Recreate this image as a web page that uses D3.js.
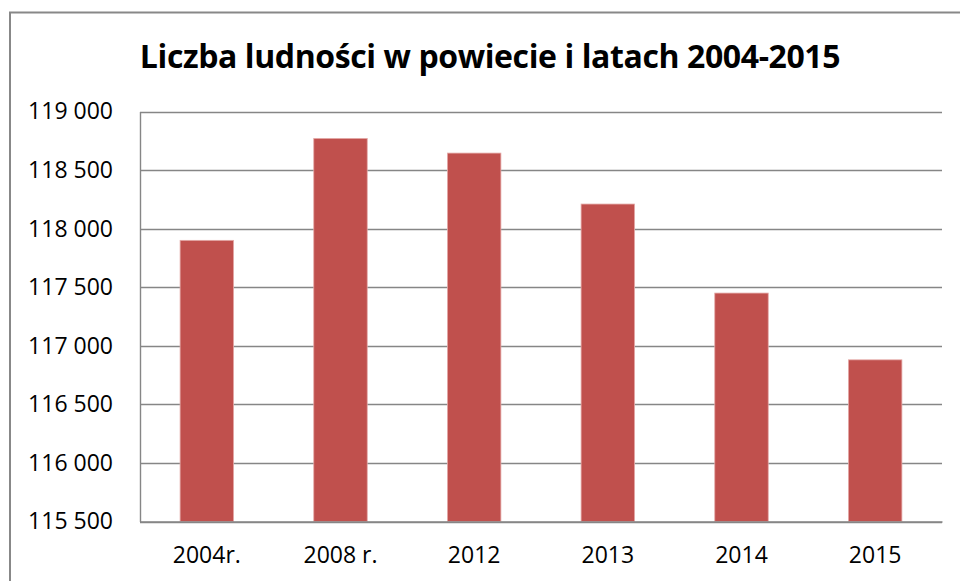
<!DOCTYPE html>
<html>
<head>
<meta charset="utf-8">
<script src="https://cdn.jsdelivr.net/npm/d3@7"></script>
<style>
	body { margin: 0; background: #ffffff; }
	svg { display: block; font-family: "Open Sans", Lato, sans-serif; }
</style>
</head>
<body>
<svg id="chart" width="960" height="581"></svg>
<script>
// data
var categories = ["2004r.", "2008 r.", "2012", "2013", "2014", "2015"];
var population = [117900, 118770, 118645, 118210, 117450, 116880];
var yTicks = [115500, 116000, 116500, 117000, 117500, 118000, 118500, 119000];
var title = "Liczba ludności w powiecie i latach 2004-2015";

var svg = d3.select("#chart");

var plot = { left: 140, right: 942, top: 111.5, bottom: 521.5 };
var font = "'Open Sans', Lato, sans-serif";

var pl = d3.formatLocale({ decimal: ",", thousands: " ", grouping: [3], currency: ["", ""] });
var fmt = pl.format(",d");

// outer frame (runs off the right and bottom edges)
svg.append("rect")
	.attr("x", 10).attr("y", 12.5)
	.attr("width", 1000).attr("height", 700)
	.attr("fill", "none")
	.attr("stroke", "#888888")
	.attr("stroke-width", 2);

var x = d3.scaleBand()
	.domain(categories)
	.range([plot.left, plot.right])
	.paddingInner(0.6)
	.paddingOuter(0.3);

var y = d3.scaleLinear()
	.domain([d3.min(yTicks), d3.max(yTicks)])
	.range([plot.bottom, plot.top]);

// gridlines
svg.append("g")
	.selectAll("line")
	.data(yTicks)
	.enter().append("line")
	.attr("x1", plot.left)
	.attr("x2", plot.right)
	.attr("y1", function(d) { return Math.round(y(d)) + 0.5; })
	.attr("y2", function(d) { return Math.round(y(d)) + 0.5; })
	.attr("stroke", "#868686")
	.attr("stroke-width", 1.4);

// y axis labels
var yAxis = d3.axisLeft(y).tickValues(yTicks).tickFormat(fmt).tickSize(0).tickPadding(27);
svg.append("g")
	.attr("transform", "translate(" + plot.left + ",0)")
	.call(yAxis)
	.attr("font-family", font)
	.attr("font-size", 23)
	.call(function(g) { g.select(".domain").attr("stroke", "#868686").attr("stroke-width", 1.4); })
	.selectAll("text")
	.attr("fill", "#000000");

// bars
svg.append("g")
	.selectAll("rect")
	.data(population)
	.enter().append("rect")
	.attr("x", function(d, i) { return x(categories[i]); })
	.attr("y", function(d) { return y(d); })
	.attr("width", x.bandwidth())
	.attr("height", function(d) { return y(y.domain()[0]) - y(d); })
	.attr("fill", "#c0504d")
	.attr("stroke", "#e4a9a7")
	.attr("stroke-width", 0.8);

// x axis
var xAxis = d3.axisBottom(x).tickSize(0).tickPadding(25);
svg.append("g")
	.attr("transform", "translate(0," + plot.bottom + ")")
	.call(xAxis)
	.attr("font-family", font)
	.attr("font-size", 23)
	.call(function(g) { g.select(".domain").attr("stroke", "#868686").attr("stroke-width", 1.4); })
	.selectAll("text")
	.attr("fill", "#000000");

// title
svg.append("text")
	.attr("x", 490)
	.attr("y", 68)
	.attr("text-anchor", "middle")
	.attr("font-family", font)
	.attr("font-size", 32)
	.attr("letter-spacing", -0.4)
	.attr("font-weight", "bold")
	.attr("fill", "#000000")
	.text(title);
</script>
</body>
</html>
